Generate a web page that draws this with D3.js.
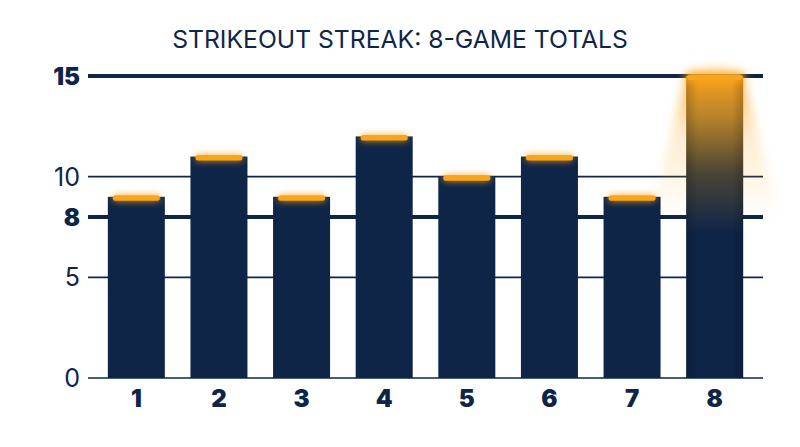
<!DOCTYPE html>
<html><head><meta charset="utf-8">
<script src="https://cdn.jsdelivr.net/npm/d3@7"></script>
<style>html,body{margin:0;padding:0;background:#fff;}svg{display:block;}</style>
</head><body>
<svg id="c" width="800" height="447"></svg>
<script>
const title = "STRIKEOUT STREAK: 8-GAME TOTALS";
const games = ["1","2","3","4","5","6","7","8"];
const strikeouts = [9, 11, 9, 12, 10, 11, 9, 15];
const yTicks = [0, 5, 8, 10, 15];
const boldTicks = [8, 15];
const highlightGame = "8";

const navy = "#0e2548", orange = "#f9a51c";
const W = 800, H = 447;
const m = {left: 88, right: 37, top: 76, bottom: 69};
const svg = d3.select("#c");
const defs = svg.append("defs");

const blur = defs.append("filter").attr("id","glow").attr("x","-50%").attr("y","-300%").attr("width","200%").attr("height","700%");
blur.append("feGaussianBlur").attr("in","SourceGraphic").attr("stdDeviation",3.5).attr("result","b");
const mg = blur.append("feMerge");
mg.append("feMergeNode").attr("in","b");
mg.append("feMergeNode").attr("in","SourceGraphic");

const coneBlur = defs.append("filter").attr("id","coneblur").attr("x","-50%").attr("y","-50%").attr("width","200%").attr("height","200%");
coneBlur.append("feGaussianBlur").attr("stdDeviation",5);

const barGrad = defs.append("linearGradient").attr("id","hiGrad").attr("x1",0).attr("y1",0).attr("x2",0).attr("y2",1);
barGrad.append("stop").attr("offset","0%").attr("stop-color","#f7a11c");
barGrad.append("stop").attr("offset","14%").attr("stop-color","#b5822a");
barGrad.append("stop").attr("offset","32%").attr("stop-color","#4a4535");
barGrad.append("stop").attr("offset","52%").attr("stop-color",navy);
barGrad.append("stop").attr("offset","100%").attr("stop-color",navy);

const sideGrad = defs.append("linearGradient").attr("id","sideGrad").attr("x1",0).attr("y1",0).attr("x2",1).attr("y2",0);
sideGrad.append("stop").attr("offset","0%").attr("stop-color","#000").attr("stop-opacity",0.18);
sideGrad.append("stop").attr("offset","20%").attr("stop-color","#000").attr("stop-opacity",0);
sideGrad.append("stop").attr("offset","80%").attr("stop-color","#000").attr("stop-opacity",0);
sideGrad.append("stop").attr("offset","100%").attr("stop-color","#000").attr("stop-opacity",0.18);

const coneGrad = defs.append("linearGradient").attr("id","coneGrad").attr("x1",0).attr("y1",0).attr("x2",0).attr("y2",1);
coneGrad.append("stop").attr("offset","0%").attr("stop-color",orange).attr("stop-opacity",0.75);
coneGrad.append("stop").attr("offset","40%").attr("stop-color",orange).attr("stop-opacity",0.22);
coneGrad.append("stop").attr("offset","100%").attr("stop-color",orange).attr("stop-opacity",0);

const x = d3.scaleBand().domain(games).range([m.left, W - m.right]).paddingInner(0.31).paddingOuter(0.24);
const y = d3.scaleLinear().domain([0, 15]).range([H - m.bottom, m.top]);

svg.append("text").attr("x", 400).attr("y", 48).attr("text-anchor","middle")
  .attr("font-family","Inter, 'Liberation Sans', sans-serif").attr("font-size",24.7).attr("fill",navy)
  .text(title);

// gridlines
svg.append("g").selectAll("line").data(yTicks).join("line")
  .attr("x1", m.left).attr("x2", W - m.right)
  .attr("y1", d => y(d)).attr("y2", d => y(d))
  .attr("stroke", navy)
  .attr("stroke-width", d => boldTicks.includes(d) ? 4 : 1.6);

// y labels
svg.append("g").selectAll("text").data(yTicks).join("text")
  .attr("x", 80).attr("y", d => y(d)).attr("dy","0.36em").attr("text-anchor","end")
  .attr("font-family", "Inter, 'Liberation Sans', sans-serif")
  .attr("font-size", d => boldTicks.includes(d) ? 24 : 25)
  .attr("font-weight", d => boldTicks.includes(d) ? 900 : 400)
  .attr("fill", navy).text(d => d);

const data = games.map((g,i) => ({g, v: strikeouts[i]}));

// cone for highlighted bar
const hd = data.find(d => d.g === highlightGame);
const hx0 = x(hd.g), hx1 = x(hd.g) + x.bandwidth(), ht = y(hd.v);
svg.append("polygon")
  .attr("points", [[hx0, ht+2], [hx1, ht+2], [hx1+36, ht+140], [hx0-36, ht+140]].map(p => p.join(",")).join(" "))
  .attr("fill","url(#coneGrad)").attr("filter","url(#coneblur)");

// bars
svg.append("g").selectAll("rect").data(data).join("rect")
  .attr("x", d => x(d.g)).attr("width", x.bandwidth())
  .attr("y", d => y(d.v)).attr("height", d => y(0) - y(d.v))
  .attr("fill", d => d.g === highlightGame ? "url(#hiGrad)" : navy);

svg.append("rect").attr("x", hx0).attr("width", x.bandwidth()).attr("y", ht).attr("height", y(0) - ht)
  .attr("fill","url(#sideGrad)");

// glow above highlighted bar
svg.append("ellipse").attr("cx", (hx0+hx1)/2).attr("cy", ht).attr("rx", 32).attr("ry", 8)
  .attr("fill", orange).attr("opacity", 0.5).attr("filter","url(#coneblur)");

// caps
svg.append("g").selectAll("rect").data(data).join("rect")
  .attr("x", d => x(d.g) + (d.g === highlightGame ? 1 : 5))
  .attr("width", d => x.bandwidth() - (d.g === highlightGame ? 2 : 10))
  .attr("y", d => y(d.v) - 1.5).attr("height", 5.5).attr("rx", 2.5)
  .attr("fill", orange).attr("filter","url(#glow)");

// x labels
svg.append("g").selectAll("text").data(games).join("text")
  .attr("x", d => x(d) + x.bandwidth()/2).attr("y", 407).attr("text-anchor","middle")
  .attr("font-family","Inter, 'Liberation Sans', sans-serif").attr("font-size",24).attr("font-weight",900)
  .attr("fill", navy).text(d => d);
</script>
</body></html>
